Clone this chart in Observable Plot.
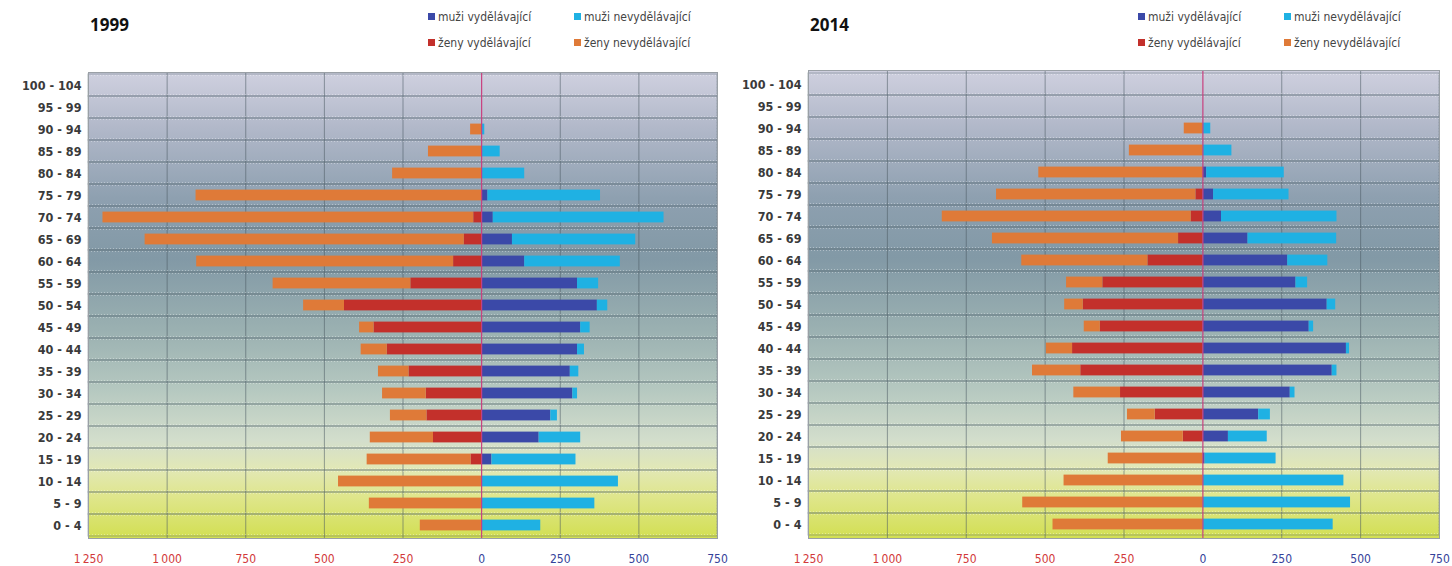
<!DOCTYPE html>
<html><head><meta charset="utf-8">
<script src="https://cdn.jsdelivr.net/npm/d3@7"></script>
<script src="https://cdn.jsdelivr.net/npm/@observablehq/plot@0.6"></script>
<style>
html,body{margin:0;padding:0;background:#fff;}
body{width:1452px;height:566px;overflow:hidden;position:relative;font-family:"Liberation Sans Narrow","DejaVu Sans Condensed",sans-serif;}
.panel{position:absolute;top:0;height:566px;}
.title{position:absolute;top:13px;font:bold 17px "Open Sans","DejaVu Sans",sans-serif;color:#111;}
.leg{position:absolute;font-size:12px;color:#444;white-space:nowrap;line-height:14px;}
.sw{display:inline-block;width:7px;height:7px;margin-right:3px;vertical-align:1px;}
.plot{position:absolute;top:60px;left:0;}
</style>
</head><body>
<script>
const ages = ["100 - 104","95 - 99","90 - 94","85 - 89","80 - 84","75 - 79","70 - 74","65 - 69","60 - 64","55 - 59","50 - 54","45 - 49","40 - 44","35 - 39","30 - 34","25 - 29","20 - 24","15 - 19","10 - 14","5 - 9","0 - 4"];
const seriesNames = ["muži vydělávající","muži nevydělávající","ženy vydělávající","ženy nevydělávající"];
const seriesColors = ["#3b49a8","#1fb1e3","#c3302b","#df7a38"];

// 1999 (thousands), top row = 100 - 104
const men_earn_1999    = [0,0,0,0,0,20,37,98,137,305,368,315,305,282,290,220,183,33,0,0,0];
const men_nonearn_1999 = [0,0,10,59,137,358,543,392,304,67,33,30,22,27,15,21,132,267,435,360,188];
const women_earn_1999    = [0,0,0,0,0,0,25,55,89,225,436,342,300,231,176,174,153,34,0,0,0];
const women_nonearn_1999 = [0,0,35,169,283,908,1179,1015,817,438,130,46,83,97,139,116,201,330,455,357,195];

// 2014
const men_earn_2014    = [0,0,0,0,12,34,59,143,269,295,394,337,455,410,277,177,81,7,0,0,0];
const men_nonearn_2014 = [0,0,25,92,246,239,366,281,127,37,27,14,10,15,15,37,123,225,447,468,413];
const women_earn_2014    = [0,0,0,0,0,22,37,77,174,317,379,325,413,387,261,151,62,0,0,0,0];
const women_nonearn_2014 = [0,0,59,233,520,632,789,590,400,115,59,51,83,153,148,88,196,300,440,571,475];

const negTicks = [-1250,-1000,-750,-500,-250];
const posTicks = [0,250,500,750];
const gridTicks = [-1000,-750,-500,-250,250,500];

function table(me, mn, we, wn){
  const rows = [];
  ages.forEach((a,i)=>{
    rows.push({age:a, series:seriesNames[0], value:me[i]});
    rows.push({age:a, series:seriesNames[1], value:mn[i]});
    rows.push({age:a, series:seriesNames[2], value:-we[i]});
    rows.push({age:a, series:seriesNames[3], value:-wn[i]});
  });
  return rows;
}
const fmt = v => { const s = String(Math.abs(v)); return s.length>3 ? s.slice(0,-3)+"\u2009"+s.slice(-3) : s; };

function makePanel(year, left, width, mTop, mRight, data, legX){
  const panel = document.createElement("div");
  panel.className = "panel"; panel.style.left = left+"px"; panel.style.width = width+"px";
  document.body.appendChild(panel);
  const t = document.createElement("div"); t.className="title"; t.textContent = year; t.style.left = "90px"; panel.appendChild(t);
  const legPos = [[legX,10],[legX+146,10],[legX,36],[legX+146,36]];
  seriesNames.forEach((s,i)=>{
    const d = document.createElement("div"); d.className="leg";
    d.style.left = legPos[i][0]+"px"; d.style.top = legPos[i][1]+"px";
    d.innerHTML = `<span class="sw" style="background:${seriesColors[i]}"></span>${s}`;
    panel.appendChild(d);
  });
  const gid = "bg"+year;
  const fontFam = '"Liberation Sans Narrow","DejaVu Sans Condensed",sans-serif';
  const svg = Plot.plot({
    width, height:506,
    marginLeft:88, marginRight:mRight, marginTop:mTop, marginBottom:28,
    style:{background:"transparent", fontFamily:fontFam, overflow:"visible"},
    x:{domain:[-1250,750], axis:null},
    y:{domain:ages, padding:0, axis:null},
    color:{domain:seriesNames, range:seriesColors},
    marks:[
      Plot.frame({fill:`url(#${gid})`, stroke:"none"}),
      Plot.ruleX(gridTicks, {stroke:"#4b5a63", strokeOpacity:0.55}),
      Plot.barX(ages, {x1:-1250, x2:750, y:d=>d, fill:"none", stroke:"#56656e", strokeOpacity:0.45, strokeWidth:1}),
      Plot.barX(ages, {x1:-1250, x2:750, y:d=>d, fill:"none", stroke:"#ffffff", strokeOpacity:0.35, strokeDasharray:"1,2", insetTop:1.5, insetBottom:1.5}),
      Plot.barX(data, Plot.stackX({x:"value", y:"age", fill:"series", order:seriesNames, insetTop:5.6, insetBottom:5.6})),
      Plot.ruleX([0], {stroke:"#c8417f", strokeWidth:1.2}),
      Plot.frame({stroke:"#9aa0a6"}),
      Plot.axisY({tickSize:0, tickPadding:7, fontSize:12.5, fill:"#3a3a3a", fontWeight:"bold", label:null}),
      Plot.axisX(negTicks, {tickSize:0, tickPadding:16, fontSize:12, fill:"#d2393a", tickFormat:fmt, label:null}),
      Plot.axisX(posTicks, {tickSize:0, tickPadding:16, fontSize:12, fill:"#34429a", tickFormat:fmt, label:null})
    ]
  });
  svg.classList.add("plot");
  const defs = d3.select(svg).insert("defs", ":first-child");
  const g = defs.append("linearGradient").attr("id", gid).attr("x1",0).attr("y1",0).attr("x2",0).attr("y2",1);
  [[0,"#cfd0df"],[0.12,"#b1b8c9"],[0.27,"#8ea0b0"],[0.40,"#8299a6"],[0.55,"#9ab0b1"],[0.68,"#b5c8c0"],[0.79,"#d3decc"],[0.85,"#e2e8b6"],[0.91,"#dfe68c"],[1,"#d2df52"]]
    .forEach(([o,c])=>g.append("stop").attr("offset",o).attr("stop-color",c));
  panel.appendChild(svg);
}

makePanel("1999", 0, 726, 12, 9, table(men_earn_1999, men_nonearn_1999, women_earn_1999, women_nonearn_1999), 428);
makePanel("2014", 720, 732, 10, 13, table(men_earn_2014, men_nonearn_2014, women_earn_2014, women_nonearn_2014), 418);
</script>
</body></html>
